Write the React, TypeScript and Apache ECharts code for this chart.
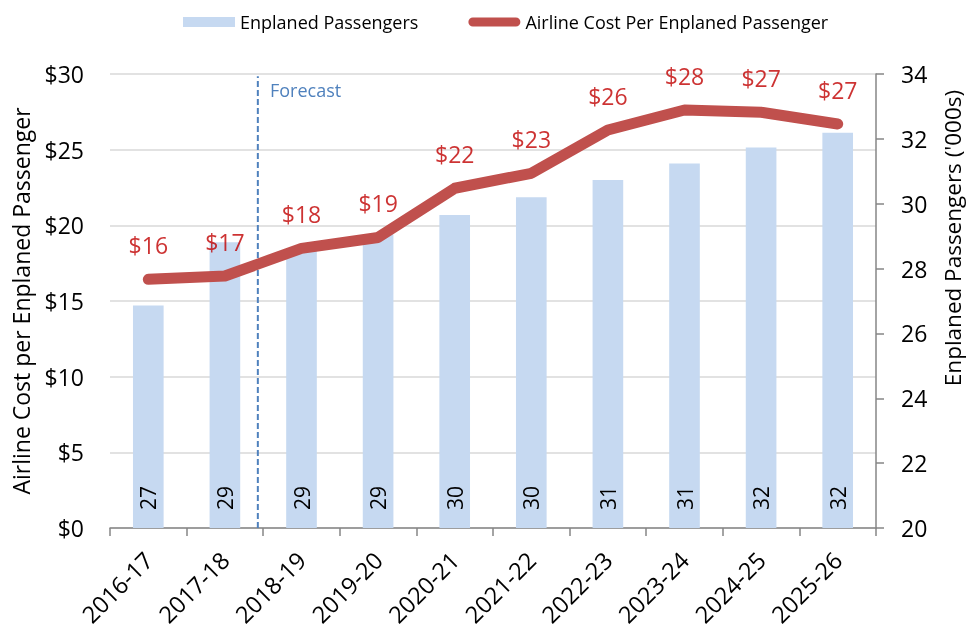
import React, { useEffect, useRef } from "react";
import * as echarts from "echarts";

const categories = ["2016-17", "2017-18", "2018-19", "2019-20", "2020-21", "2021-22", "2022-23", "2023-24", "2024-25", "2025-26"];
const passengers = [26.86, 28.81, 28.55, 29.05, 29.65, 30.2, 30.73, 31.24, 31.73, 32.19];
const costs = [16.43, 16.65, 18.48, 19.2, 22.45, 23.44, 26.3, 27.62, 27.47, 26.7];
const forecastPos = 1.93;
const forecastTop = 29.85;

const FONT = "'Open Sans', sans-serif";

export default function App() {
  const ref = useRef<HTMLDivElement>(null);
  useEffect(() => {
    if (!ref.current) return;
    const chart = echarts.init(ref.current, undefined, { renderer: "svg" });
    chart.setOption({
      animation: false,
      textStyle: { fontFamily: FONT },
      legend: {
        left: 178,
        top: 8,
        itemGap: 50,
        itemWidth: 52,
        itemHeight: 10,
        textStyle: { fontSize: 18, color: "#000", fontFamily: FONT },
        data: [
          { name: "Enplaned Passengers", icon: "rect" },
          {
            name: "Airline Cost Per Enplaned Passenger",
            icon: "path://M5,0 L53,0 A5,5 0 0 1 53,10 L5,10 A5,5 0 0 1 5,0 Z",
            itemStyle: { color: "#C0504D" },
          },
        ],
      },
      grid: { left: 110, right: 90, top: 74, bottom: 101 },
      xAxis: [
        {
          type: "category",
          data: categories,
          axisLine: { lineStyle: { color: "#868686", width: 1.5 } },
          axisTick: { show: true, length: 8, lineStyle: { color: "#868686", width: 1.5 } },
          axisLabel: { rotate: 45, fontSize: 23.5, color: "#000", margin: 28, fontFamily: FONT },
          splitLine: { show: false },
        },
        { type: "value", min: 0, max: 10, show: false },
      ],
      yAxis: [
        {
          type: "value",
          min: 0,
          max: 30,
          interval: 5,
          name: "Airline Cost per Enplaned Passenger",
          nameLocation: "middle",
          nameRotate: 90,
          nameGap: 78,
          nameTextStyle: { fontSize: 23, color: "#000", fontFamily: FONT },
          axisLine: { show: false },
          axisTick: { show: false },
          axisLabel: { fontSize: 23, color: "#000", margin: 26, formatter: (v: number) => "$" + v, fontFamily: FONT },
          splitLine: { lineStyle: { color: "#D9D9D9", width: 1.5 } },
        },
        {
          type: "value",
          min: 20,
          max: 34,
          interval: 2,
          position: "right",
          axisLine: { show: true, lineStyle: { color: "#868686", width: 1.5 } },
          axisTick: { show: true, length: 8, lineStyle: { color: "#868686", width: 1.5 } },
          axisLabel: { fontSize: 23, color: "#000", margin: 25, fontFamily: FONT },
          splitLine: { show: false },
        },
      ],
      series: [
        {
          name: "Enplaned Passengers",
          type: "bar",
          yAxisIndex: 1,
          barWidth: "40%",
          data: passengers,
          itemStyle: { color: "#C6D9F1" },
          label: {
            show: true,
            position: "insideBottom",
            rotate: 90,
            align: "left",
            verticalAlign: "middle",
            distance: 18,
            fontSize: 21,
            color: "#000",
            fontFamily: FONT,
            formatter: (p: any) => String(Math.round(p.value)),
          },
          z: 1,
        },
        {
          name: "Airline Cost Per Enplaned Passenger",
          type: "line",
          yAxisIndex: 0,
          data: costs,
          symbol: "none",
          lineStyle: { color: "#C0504D", width: 11, cap: "round", join: "round" },
          itemStyle: { color: "#C0504D" },
          label: { show: false },
          z: 3,
        },
        {
          name: "labels",
          type: "scatter",
          yAxisIndex: 0,
          data: costs,
          symbolSize: 1,
          itemStyle: { color: "transparent" },
          label: {
            show: true,
            position: "top",
            distance: 22,
            fontSize: 23,
            color: "#C00000",
            fontFamily: FONT,
            formatter: (p: any) => "$" + Math.round(p.value),
          },
          z: 4,
          silent: true,
        },
        {
          name: "forecast",
          type: "line",
          xAxisIndex: 1,
          yAxisIndex: 0,
          data: [
            [forecastPos, 0],
            [forecastPos, forecastTop],
          ],
          symbol: "none",
          lineStyle: { color: "#4F81BD", width: 2, type: [6, 3] },
          z: 2,
          silent: true,
        },
      ],
      graphic: [
        {
          type: "text",
          left: 270,
          top: 81,
          style: { text: "Forecast", fontSize: 18, fill: "#4F81BD", fontFamily: FONT },
        },
        {
          type: "text",
          x: 952,
          y: 238,
          rotation: Math.PI / 2,
          style: {
            text: "Enplaned Passengers ('000s)",
            fontSize: 22.5,
            fill: "#000",
            fontFamily: FONT,
            align: "center",
            verticalAlign: "middle",
          },
        },
      ],
    });
    return () => chart.dispose();
  }, []);
  return <div ref={ref} style={{ position: "fixed", left: 0, top: 0, width: 966, height: 629 }} />;
}
